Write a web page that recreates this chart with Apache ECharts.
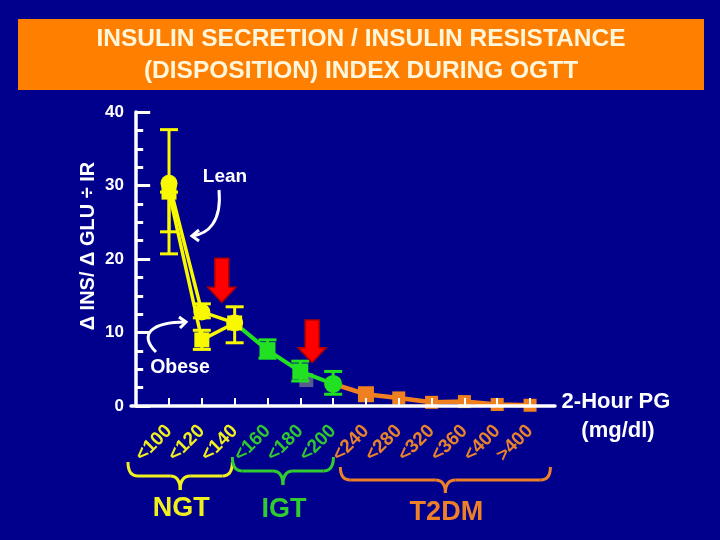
<!DOCTYPE html>
<html>
<head>
<meta charset="utf-8">
<script src="https://cdn.jsdelivr.net/npm/echarts@6/dist/echarts.min.js"></script>
<style>
  html, body { margin: 0; padding: 0; background: #00008c; }
  #chart { width: 720px; height: 540px; }
</style>
</head>
<body>
<div id="chart"></div>
<script>
/* disposition index during OGTT — 2h PG bands */

// x categories (plotted at 1..12)
const categories = ['<100', '<120', '<140', '<160', '<180', '<200', '<240', '<280', '<320', '<360', '<400', '>400'];
const groupNames = ['NGT', 'IGT', 'T2DM'];
const groupOf = [0, 0, 0, 1, 1, 1, 2, 2, 2, 2, 2, 2];

// lean (circles) and obese (squares), NGT bands
const leanX = [1, 2, 3];
const leanY = [30.3, 12.8, 11.3];
const leanLow = [23.7, 12.0, 8.6];
const leanHigh = [37.6, 13.9, 13.5];

const obeseX = [1, 2, 3];
const obeseY = [29.1, 9.0, 11.3];
const obeseLow = [20.7, 7.7, null];
const obeseHigh = [29.1, 10.3, null];

// IGT
const igtX = [3, 4, 5, 6];
const igtY = [11.3, 7.6, 4.7, 3.0];
const igtLow = [null, 6.5, 3.4, 1.6];
const igtHigh = [null, 9.0, 6.1, 4.7];
const igtGreyX = [5];
const igtGreyY = [3.8];

// T2DM
const t2dmX = [6, 7, 8, 9, 10, 11, 12];
const t2dmY = [3.0, 1.6, 1.1, 0.5, 0.6, 0.2, 0.1];

// red arrows: x, top, bottom (data units)
const arrowX = [2.61, 5.36];
const arrowTop = [20.1, 11.7];
const arrowBottom = [14.1, 5.9];

const YEL = '#f8f800', GRN = '#22e022', ORG = '#f07f1f';
const labelColors = ['#f0f020', '#30c830', '#e8822c'];
const groupColors = ['#f0f020', '#30cc30', '#ee8028'];
const FONT = 'Liberation Sans';

const chart = echarts.init(document.getElementById('chart'));

const pairs = (xs, ys) => xs.map((x, i) => [x, ys[i]]);
const errData = (xs, lo, hi) => xs.map((x, i) => [x, lo[i], hi[i]]).filter(d => d[1] != null);

function renderErr(params, api) {
  const x = api.value(0);
  const p1 = api.coord([x, api.value(1)]);
  const p2 = api.coord([x, api.value(2)]);
  const w = 9;
  const style = { stroke: api.visual('color'), lineWidth: 3 };
  const kids = [
    { type: 'line', shape: { x1: p1[0], y1: p1[1], x2: p2[0], y2: p2[1] }, style },
    { type: 'line', shape: { x1: p1[0] - w, y1: p1[1], x2: p1[0] + w, y2: p1[1] }, style }
  ];
  if (Math.abs(p1[1] - p2[1]) > 0.5) {
    kids.push({ type: 'line', shape: { x1: p2[0] - w, y1: p2[1], x2: p2[0] + w, y2: p2[1] }, style });
  }
  return { type: 'group', children: kids };
}

function renderArrow(params, api) {
  const t = api.coord([api.value(0), api.value(1)]);
  const b = api.coord([api.value(0), api.value(2)]);
  const cx = t[0], sw = 7, hw = 14, hl = 15;
  return {
    type: 'polygon',
    shape: { points: [[cx - sw, t[1]], [cx + sw, t[1]], [cx + sw, b[1] - hl], [cx + hw, b[1] - hl], [cx, b[1]], [cx - hw, b[1] - hl], [cx - sw, b[1] - hl]] },
    style: { fill: '#ff0000', stroke: '#b00000', lineWidth: 1.5 }
  };
}

const tickValues = categories.map((c, i) => i + 1);

chart.setOption({
  backgroundColor: '#00008c',
  animation: false,
  grid: { left: 131, top: 112, width: 424, height: 294, containLabel: false },
  xAxis: {
    type: 'value', min: -0.158, max: 12.76,
    z: 10,
    splitLine: { show: false },
    axisLine: { lineStyle: { color: '#fff', width: 3.5 } },
    axisTick: { show: true, inside: true, length: 8, customValues: tickValues, lineStyle: { color: '#fff', width: 2 } },
    axisLabel: {
      customValues: tickValues, rotate: 45, margin: 22,
      fontSize: 19, fontWeight: 'bold', fontFamily: FONT,
      formatter: v => categories[v - 1] || '',
      color: v => labelColors[groupOf[Number(v) - 1]] || '#fff'
    }
  },
  yAxis: {
    type: 'value', min: 0, max: 40, interval: 10,
    z: 10,
    splitLine: { show: false },
    axisLine: { show: true, lineStyle: { color: '#fff', width: 3.5 } },
    axisTick: { show: true, inside: true, length: 14, lineStyle: { color: '#fff', width: 3 } },
    minorTick: { show: true, splitNumber: 4, length: 7, lineStyle: { color: '#fff', width: 3 } },
    axisLabel: { color: '#fff', fontSize: 17, fontWeight: 'bold', fontFamily: FONT, margin: 7 }
  },
  series: [
    { name: 'T2DM', type: 'line', z: 2, color: ORG, lineStyle: { width: 4.5 },
      data: pairs(t2dmX, t2dmY).map((d, i) => ({ value: d, symbol: i === 0 ? 'none' : 'rect', symbolSize: i === 1 ? 16 : 13 })) },
    { name: 'IGT grey', type: 'scatter', z: 3, symbol: 'rect', symbolSize: 14, symbolOffset: [6, 2],
      itemStyle: { color: 'rgba(150,150,150,0.75)' }, data: pairs(igtGreyX, igtGreyY) },
    { name: 'IGT', type: 'line', z: 4, color: GRN, lineStyle: { width: 4 },
      data: pairs(igtX, igtY).map((d, i) => ({ value: d, symbol: i === 0 ? 'none' : (i === igtX.length - 1 ? 'circle' : 'rect'), symbolSize: i === igtX.length - 1 ? 18 : 16 })) },
    { name: 'IGT err', type: 'custom', z: 4, color: GRN, renderItem: renderErr, data: errData(igtX, igtLow, igtHigh) },
    { name: 'Obese', type: 'line', z: 5, color: YEL, symbol: 'rect', symbolSize: 15, lineStyle: { width: 3.5 }, data: pairs(obeseX, obeseY) },
    { name: 'Obese err', type: 'custom', z: 5, color: YEL, renderItem: renderErr, data: errData(obeseX, obeseLow, obeseHigh) },
    { name: 'Lean', type: 'line', z: 6, color: YEL, symbol: 'circle', symbolSize: 17, lineStyle: { width: 3.5 }, data: pairs(leanX, leanY) },
    { name: 'Lean err', type: 'custom', z: 6, color: YEL, renderItem: renderErr, data: errData(leanX, leanLow, leanHigh) },
    { name: 'arrows', type: 'custom', z: 7, renderItem: renderArrow, data: arrowX.map((x, i) => [x, arrowTop[i], arrowBottom[i]]) }
  ]
});

// annotations
const px = (x, y) => chart.convertToPixel({ gridIndex: 0 }, [x, y]);
const braceSpan = [[-0.25, 2.93], [2.93, 6.01], [6.22, 12.62]];
const braceTop = [462, 457, 467];
const braceBot = [490, 485, 493];
const braceLabelY = [509, 510, 513];

// curly brace opening upward, built from quadratic curves + lines
function brace(L, R, top, bot, color) {
  const mid = (L + R) / 2, hm = top + (bot - top) * 0.5, r = 10;
  const style = { stroke: color, lineWidth: 3, fill: null };
  const q = (x1, y1, cx, cy, x2, y2) => ({ type: 'bezierCurve', shape: { x1, y1, cpx1: cx, cpy1: cy, x2, y2 }, style });
  const ln = (x1, y1, x2, y2) => ({ type: 'line', shape: { x1, y1, x2, y2 }, style });
  return [
    q(L, top, L, hm, L + r, hm),
    ln(L + r, hm, mid - r, hm),
    q(mid - r, hm, mid, hm, mid, bot),
    q(mid, bot, mid, hm, mid + r, hm),
    ln(mid + r, hm, R - r, hm),
    q(R - r, hm, R, hm, R, top)
  ];
}

const g = [
  { type: 'rect', shape: { x: 18, y: 19, width: 686, height: 71 }, style: { fill: '#ff8000' }, z: 0 },
  { type: 'text', x: 361, y: 39, style: { text: 'INSULIN SECRETION / INSULIN RESISTANCE', fill: '#fff6dc', font: `bold 24.5px "${FONT}"`, align: 'center', verticalAlign: 'middle' } },
  { type: 'text', x: 361, y: 71, style: { text: '(DISPOSITION) INDEX DURING OGTT', fill: '#fff6dc', font: `bold 24.5px "${FONT}"`, align: 'center', verticalAlign: 'middle' } },
  { type: 'text', x: 88, y: 246, rotation: Math.PI / 2, style: { text: 'Δ INS/ Δ GLU ÷ IR', fill: '#fff', font: `bold 20px "${FONT}"`, align: 'center', verticalAlign: 'middle' } },
  { type: 'text', x: 225, y: 177, style: { text: 'Lean', fill: '#fff', font: `bold 19px "${FONT}"`, align: 'center', verticalAlign: 'middle' } },
  { type: 'text', x: 180, y: 368, style: { text: 'Obese', fill: '#fff', font: `bold 19.5px "${FONT}"`, align: 'center', verticalAlign: 'middle' } },
  { type: 'bezierCurve', shape: { x1: 219, y1: 190, cpx1: 222, cpy1: 222, cpx2: 208, cpy2: 234, x2: 192, y2: 236 }, style: { stroke: '#fff', lineWidth: 3, fill: null } },
  { type: 'polyline', shape: { points: [[199, 230], [192, 236], [199, 241]] }, style: { stroke: '#fff', lineWidth: 3 } },
  { type: 'bezierCurve', shape: { x1: 156, y1: 352, cpx1: 138, cpy1: 334, cpx2: 152, cpy2: 322, x2: 186, y2: 322 }, style: { stroke: '#fff', lineWidth: 3, fill: null } },
  { type: 'polyline', shape: { points: [[179, 317], [186, 322], [180, 328]] }, style: { stroke: '#fff', lineWidth: 3 } },
  { type: 'text', x: 616, y: 402, style: { text: '2-Hour PG', fill: '#fff', font: `bold 22px "${FONT}"`, align: 'center', verticalAlign: 'middle' } },
  { type: 'text', x: 618, y: 431, style: { text: '(mg/dl)', fill: '#fff', font: `bold 22px "${FONT}"`, align: 'center', verticalAlign: 'middle' } }
];

groupNames.forEach((name, i) => {
  const L = px(braceSpan[i][0], 0)[0];
  const R = px(braceSpan[i][1], 0)[0];
  brace(L, R, braceTop[i], braceBot[i], groupColors[i]).forEach(el => g.push(el));
  g.push({ type: 'text', x: (L + R) / 2 + 1, y: braceLabelY[i], style: { text: name, fill: groupColors[i], font: `bold 27px "${FONT}"`, align: 'center', verticalAlign: 'middle' } });
});

chart.setOption({ graphic: g });
</script>
</body>
</html>
